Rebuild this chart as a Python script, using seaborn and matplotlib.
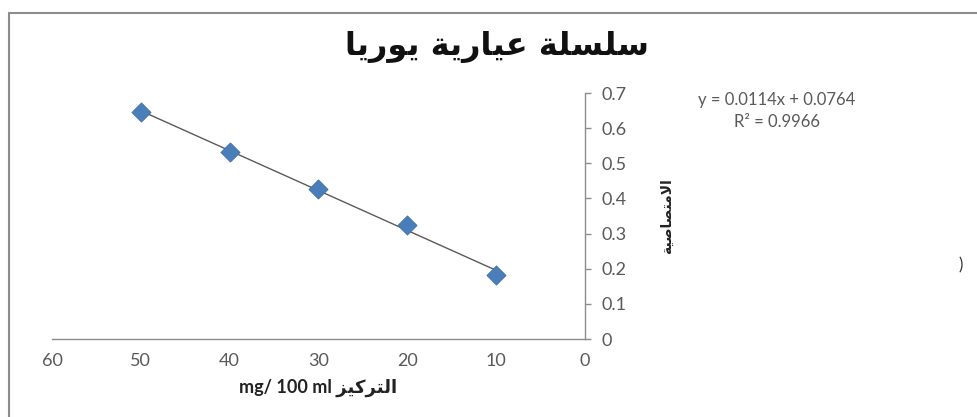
import matplotlib
matplotlib.use('Agg')
import matplotlib.pyplot as plt
import seaborn as sns
import pandas as pd
from matplotlib.lines import Line2D

# Data
concentration = [10, 20, 30, 40, 50]
absorbance = [0.183, 0.323, 0.428, 0.532, 0.646]
x_ticks = [60, 50, 40, 30, 20, 10, 0]
y_ticks = [0, 0.1, 0.2, 0.3, 0.4, 0.5, 0.6, 0.7]
title_text = 'سلسلة عيارية يوريا'
ylabel_text = 'الامتصاصية'
xlabel_ar = 'التركيز'
xlabel_unit = 'mg/ 100 ml'
eq_text = 'y = 0.0114x + 0.0764'
r2_text = 'R² = 0.9966'

# matplotlib does no Arabic shaping, so map letters to presentation forms
FORMS = {
    'ا': ('\uFE8D', '\uFE8E'),
    'ة': ('\uFE93', '\uFE94'),
    'ر': ('\uFEAD', '\uFEAE'),
    'ز': ('\uFEAF', '\uFEB0'),
    'و': ('\uFEED', '\uFEEE'),
    'LA': ('\uFEFB', '\uFEFC'),
    'ت': ('\uFE95', '\uFE96', '\uFE97', '\uFE98'),
    'س': ('\uFEB1', '\uFEB2', '\uFEB3', '\uFEB4'),
    'ص': ('\uFEB9', '\uFEBA', '\uFEBB', '\uFEBC'),
    'ع': ('\uFEC9', '\uFECA', '\uFECB', '\uFECC'),
    'ك': ('\uFED9', '\uFEDA', '\uFEDB', '\uFEDC'),
    'ل': ('\uFEDD', '\uFEDE', '\uFEDF', '\uFEE0'),
    'م': ('\uFEE1', '\uFEE2', '\uFEE3', '\uFEE4'),
    'ي': ('\uFEF1', '\uFEF2', '\uFEF3', '\uFEF4'),
}


def shape_word(word):
    letters = []
    i = 0
    while i < len(word):
        if word[i] == 'ل' and i + 1 < len(word) and word[i + 1] == 'ا':
            letters.append('LA')
            i += 2
        else:
            letters.append(word[i])
            i += 1
    out = []
    for i, c in enumerate(letters):
        f = FORMS[c]
        prev_joins = i > 0 and len(FORMS[letters[i - 1]]) == 4
        next_joins = len(f) == 4 and i + 1 < len(letters)
        if prev_joins and next_joins:
            out.append(f[3])
        elif prev_joins:
            out.append(f[1])
        elif next_joins:
            out.append(f[2])
        else:
            out.append(f[0])
    return ''.join(reversed(out))


def shape(text):
    return ' '.join(shape_word(w) for w in reversed(text.split(' ')))


sns.set_style('white')
plt.rcParams['font.family'] = ['Lato', 'DejaVu Sans']

df = pd.DataFrame({'conc': concentration, 'abs': absorbance})

fig = plt.figure(figsize=(9.78, 4.17), dpi=100)
ax = fig.add_axes([52 / 978, 1 - 339 / 417, 533 / 978, 246 / 417])

sns.regplot(data=df, x='conc', y='abs', ax=ax, scatter=False, ci=None,
            truncate=True, line_kws={'color': '#5a5a5a', 'lw': 1.0})
sns.scatterplot(data=df, x='conc', y='abs', ax=ax, marker='D', s=95,
                color='#4a7ebb', edgecolor='#3f6fa8', linewidth=0.6, zorder=3)

ax.set_xlim(60, 0)
ax.set_ylim(0, 0.7)
ax.set_xticks(x_ticks)
ax.set_yticks(y_ticks)
ax.set_xticklabels([str(t) for t in x_ticks])
ax.set_yticklabels(['0'] + [f'{t:.1f}' for t in y_ticks[1:]])
ax.yaxis.tick_right()
ax.yaxis.set_label_position('right')
for side in ['top', 'left']:
    ax.spines[side].set_visible(False)
for side in ['right', 'bottom']:
    ax.spines[side].set_color('#8c8c8c')
    ax.spines[side].set_linewidth(1.0)
ax.tick_params(axis='both', colors='#8c8c8c', labelcolor='#595959',
               labelsize=13, direction='out', length=4, width=1)
ax.tick_params(axis='y', pad=8)
ax.tick_params(axis='x', pad=6)

ax.set_ylabel(shape(ylabel_text), rotation=90, fontsize=10, fontweight='bold',
              color='#222222', family=['DejaVu Sans'])
ax.yaxis.set_label_coords(1.14, 0.5)
ax.set_xlabel(xlabel_unit + ' ' + shape(xlabel_ar), fontsize=13, fontweight='bold',
              color='#222222', family=['Lato', 'DejaVu Sans'])
ax.xaxis.set_label_coords(0.5, -0.16)

fig.text(497 / 978, 1 - 47 / 417, shape(title_text), ha='center', va='center',
         fontsize=23, fontweight='bold', family=['DejaVu Sans'], color='#111111')
fig.text(777 / 978, 1 - 100 / 417, eq_text, ha='center', va='center',
         fontsize=12, color='#595959')
fig.text(777 / 978, 1 - 122 / 417, r2_text, ha='center', va='center',
         fontsize=12, color='#595959')
fig.text(961 / 978, 1 - 265 / 417, ')', ha='center', va='center',
         fontsize=12, color='#333333')

# outer chart-area border (only top and left edges are visible)
fig.add_artist(Line2D([9 / 978, 9 / 978], [0, 1 - 13 / 417],
                      color='#8c8c8c', lw=1.5, transform=fig.transFigure))
fig.add_artist(Line2D([9 / 978, 1], [1 - 13 / 417, 1 - 13 / 417],
                      color='#8c8c8c', lw=1.5, transform=fig.transFigure))

fig.savefig('out.png', dpi=100, facecolor='white')
plt.close(fig)
